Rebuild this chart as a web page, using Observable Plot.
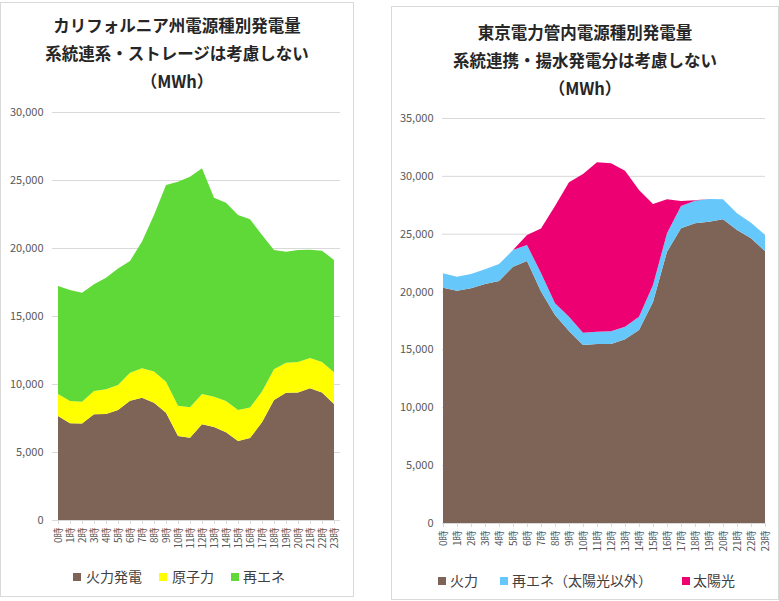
<!DOCTYPE html>
<html><head><meta charset="utf-8">
<script src="https://cdn.jsdelivr.net/npm/d3@7"></script>
<script src="https://cdn.jsdelivr.net/npm/@observablehq/plot@0.6"></script>
<style>
body{margin:0;background:#fff;font-family:"Noto Sans CJK JP","Noto Sans",sans-serif;}
#root{position:relative;width:779px;height:601px;overflow:hidden;background:#fff;}
.card{position:absolute;border:1px solid #d9d9d9;background:#fff;box-sizing:border-box;}
.title{position:absolute;text-align:center;font-weight:bold;font-size:16.5px;color:#262626;line-height:28px;white-space:nowrap;}
.plot{position:absolute;top:0;}
.leg{position:absolute;font-size:14px;color:#404040;white-space:nowrap;line-height:16px;}
.sw{position:absolute;width:8px;height:8px;}
</style>
</head><body>
<div id="root">
  <div class="card" style="left:0;top:2px;width:354px;height:595px;"></div>
  <div class="card" style="left:391px;top:6px;width:388px;height:594px;"></div>
  <div class="title" style="left:0;width:354px;top:11px;">カリフォルニア州電源種別発電量<br>系統連系・ストレージは考慮しない<br>（MWh）</div>
  <div class="title" style="left:391px;width:388px;top:18px;">東京電力管内電源種別発電量<br>系統連携・揚水発電分は考慮しない<br>（MWh）</div>
  <div id="plotL" class="plot" style="left:0;"></div>
  <div id="plotR" class="plot" style="left:391px;"></div>
  <div id="legL"></div>
  <div id="legR"></div>
</div>
<script>
const hours = ["0時","1時","2時","3時","4時","5時","6時","7時","8時","9時","10時","11時","12時","13時","14時","15時","16時","17時","18時","19時","20時","21時","22時","23時"];

// California (MWh)
const caSeries = ["火力発電","原子力","再エネ"];
const caColors = ["#7e6457","#ffff00","#5fd937"];
const caThermal = [7650,7110,7100,7770,7800,8090,8770,8990,8630,7890,6180,6050,7035,6840,6450,5810,6030,7180,8820,9360,9380,9680,9380,8530];
const caNuclear = [1610,1640,1600,1720,1810,1840,2060,2160,2280,2280,2220,2240,2225,2230,2300,2280,2240,2260,2260,2210,2240,2230,2240,2330];
const caRenew = [7950,8160,8010,7840,8210,8570,8210,9320,11520,14460,16480,16950,16600,14630,14580,14340,13840,11520,8770,8160,8230,7960,8180,8260];
const caTicks = [0,5000,10000,15000,20000,25000,30000];

// Tokyo (MWh)
const tkSeries = ["火力","再エネ（太陽光以外）","太陽光"];
const tkColors = ["#7e6457","#66c7fb","#ec0072"];
const tkThermal = [20330,20080,20280,20650,20910,22150,22640,20000,17970,16600,15380,15470,15470,15870,16680,19100,23450,25470,25900,26040,26240,25320,24600,23500];
const tkRenew = [1250,1210,1240,1270,1470,1440,1380,1600,1020,1230,1070,1060,1110,1090,1150,1470,1580,1920,1950,1960,1730,1440,1350,1390];
const tkSolar = [0,0,0,0,0,0,870,3860,8400,11610,13710,14640,14500,13490,10950,7000,2940,440,40,0,0,0,0,0];
const tkTicks = [0,5000,10000,15000,20000,25000,30000,35000];

function tidy(series, arrays) {
  const out = [];
  series.forEach((s, j) => hours.forEach((h, i) => out.push({hour: h, type: s, value: arrays[j][i]})));
  return out;
}

function chart({series, colors, arrays, ticks, width, mL, mR, mT, height}) {
  const data = tidy(series, arrays);
  return Plot.plot({
    width, height,
    marginLeft: mL, marginRight: mR, marginTop: mT, marginBottom: height - (mT + 0) - (height - mT - 40) - 0 + 0 === 0 ? 40 : 40,
    style: {fontFamily: '"Noto Sans CJK JP","Noto Sans",sans-serif', fontSize: "11px", color: "#595959", background: "transparent", overflow: "visible"},
    x: {type: "point", domain: hours, padding: 0, label: null},
    y: {domain: [0, ticks[ticks.length - 1]], label: null},
    color: {domain: series, range: colors},
    marks: [
      Plot.gridY(ticks, {stroke: "#d9d9d9", strokeOpacity: 1}),
      Plot.areaY(data, {x: "hour", y: "value", fill: "type", z: "type", order: series}),
      Plot.ruleY([0], {stroke: "#d9d9d9"}),
      Plot.axisY(ticks, {tickSize: 0, tickPadding: 9, tickFormat: d3.format(","), fill: "#595959", fontSize: 11, label: null}),
      Plot.axisX({tickSize: 4, tickRotate: -90, tickPadding: 3, stroke: "#d9d9d9", fill: "#595959", fontSize: 10, label: null})
    ]
  });
}

document.getElementById("plotL").append(chart({
  series: caSeries, colors: caColors, arrays: [caThermal, caNuclear, caRenew], ticks: caTicks,
  width: 354, mL: 52, mR: 14, mT: 112, height: 560
}));
document.getElementById("plotR").append(chart({
  series: tkSeries, colors: tkColors, arrays: [tkThermal, tkRenew, tkSolar], ticks: tkTicks,
  width: 388, mL: 51, mR: 14, mT: 118, height: 563
}));

function legend(el, series, colors, swX, txtX, cy) {
  const root = document.getElementById(el);
  series.forEach((s, i) => {
    const sw = document.createElement("div");
    sw.className = "sw";
    sw.style.left = swX[i] + "px"; sw.style.top = (cy - 4) + "px"; sw.style.background = colors[i];
    root.appendChild(sw);
    const t = document.createElement("div");
    t.className = "leg";
    t.style.left = txtX[i] + "px"; t.style.top = (cy - 9) + "px";
    t.textContent = s;
    root.appendChild(t);
  });
}
legend("legL", caSeries, caColors, [73, 159, 231], [86, 172, 243], 577);
legend("legR", tkSeries, tkColors, [438, 500, 682], [450, 512, 693], 581);
</script>
</body></html>
